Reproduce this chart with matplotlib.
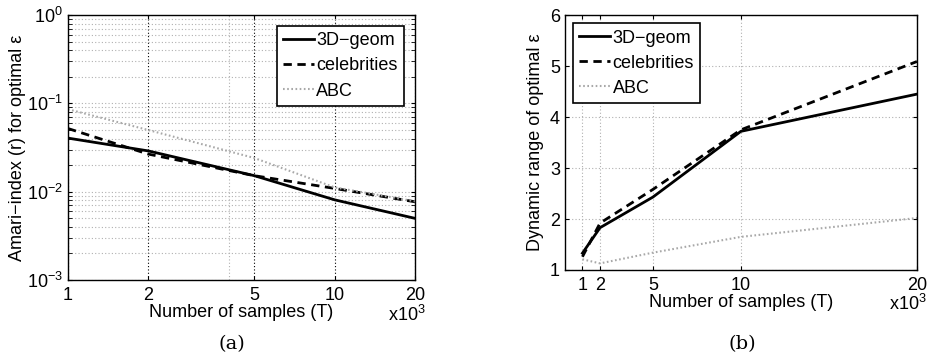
import numpy as np
import matplotlib
matplotlib.use('Agg')
import matplotlib.pyplot as plt
from matplotlib.ticker import FixedLocator, NullFormatter, FixedFormatter

# ── Data ──────────────────────────────────────────────────────────────────────
T = [1, 2, 5, 10, 20]   # number of samples, x10^3

amari_geom  = [0.0405, 0.029, 0.0152, 0.0081, 0.0050]
amari_celeb = [0.052, 0.0267, 0.0152, 0.0109, 0.0077]
amari_abc   = [0.086, 0.050, 0.0241, 0.0112, 0.0078]

drange_geom  = [1.33, 1.83, 2.43, 3.72, 4.45]
drange_celeb = [1.26, 1.92, 2.58, 3.75, 5.09]
drange_abc   = [1.21, 1.13, 1.34, 1.65, 2.02]

LABELS = ['3D\u2212geom', 'celebrities', 'ABC']
XTICKS = [1, 2, 5, 10, 20]

plt.rcParams['font.family'] = ['Liberation Sans', 'DejaVu Sans']
plt.rcParams['mathtext.fontset'] = 'custom'
plt.rcParams['mathtext.rm'] = 'Liberation Sans'

FS = 13

fig = plt.figure(figsize=(9.29, 3.6), dpi=100)
ax1 = fig.add_axes([0.0732, 0.222, 0.3735, 0.736])
ax2 = fig.add_axes([0.608, 0.25, 0.379, 0.708])

styles = [dict(color='black', lw=2.0, ls='-'),
          dict(color='black', lw=2.0, ls=(0, (3, 2))),
          dict(color='#a8a8a8', lw=1.5, ls=(0, (0.8, 1.2)))]


def style_axes(ax):
    ax.tick_params(which='both', direction='in', top=True, right=True,
                   labelsize=FS, length=3)
    for s in ax.spines.values():
        s.set_linewidth(1.0)


def add_legend(ax, loc, pad):
    leg = ax.legend(loc=loc, fontsize=FS, frameon=True, fancybox=False,
                    edgecolor='black', framealpha=1, handlelength=1.7,
                    handletextpad=0.15, borderpad=0.35, labelspacing=0.45,
                    borderaxespad=pad)
    leg.get_frame().set_linewidth(1.2)


# ── (a) Amari index ───────────────────────────────────────────────────────────
for ys, lab, st in zip([amari_geom, amari_celeb, amari_abc], LABELS, styles):
    ax1.plot(T, ys, label=lab, **st)
ax1.set_xscale('log')
ax1.set_yscale('log')
ax1.set_xlim(1, 20)
ax1.set_ylim(1e-3, 1)
ax1.xaxis.set_major_locator(FixedLocator(XTICKS))
ax1.xaxis.set_major_formatter(FixedFormatter([str(v) for v in XTICKS]))
ax1.xaxis.set_minor_locator(FixedLocator([4]))
ax1.xaxis.set_minor_formatter(NullFormatter())
ax1.grid(True, axis='x', which='major', color='black', ls=(0, (1, 2)), lw=0.8)
ax1.grid(True, axis='x', which='minor', color='#b0b0b0', ls=(0, (1, 2)), lw=0.8)
ax1.grid(True, axis='y', which='both', color='#b0b0b0', ls=(0, (1, 2)), lw=0.8)
style_axes(ax1)
ax1.tick_params(axis='x', which='minor', length=0)
ax1.tick_params(axis='x', pad=5)
ax1.set_xlabel('Number of samples (T)', fontsize=FS, labelpad=0)
ax1.set_ylabel('Amari\u2212index (r) for optimal \u03b5', fontsize=FS, labelpad=1)
add_legend(ax1, 'upper right', 0.6)
fig.text(0.458, 0.108, 'x10$^3$', fontsize=FS, ha='right')
fig.text(0.25, 0.03, '(a)', fontsize=14, ha='center', family='DejaVu Serif')

# ── (b) dynamic range ─────────────────────────────────────────────────────────
for ys, lab, st in zip([drange_geom, drange_celeb, drange_abc], LABELS, styles):
    ax2.plot(T, ys, label=lab, **st)
ax2.set_xlim(0, 20)
ax2.set_ylim(1, 6)
ax2.set_xticks(XTICKS)
ax2.set_yticks([1, 2, 3, 4, 5, 6])
ax2.grid(True, color='#b0b0b0', ls=(0, (1, 2)), lw=0.8)
style_axes(ax2)
ax2.tick_params(axis='x', pad=5)
ax2.set_xlabel('Number of samples (T)', fontsize=FS, labelpad=0)
ax2.set_ylabel('Dynamic range of optimal \u03b5', fontsize=FS, labelpad=4)
add_legend(ax2, 'upper left', 0.45)
fig.text(0.997, 0.14, 'x10$^3$', fontsize=FS, ha='right')
fig.text(0.799, 0.03, '(b)', fontsize=14, ha='center', family='DejaVu Serif')

fig.savefig('out.png', dpi=100)
